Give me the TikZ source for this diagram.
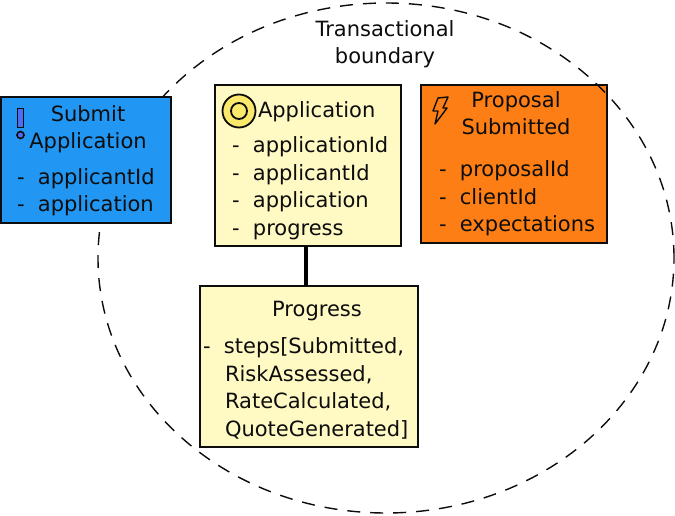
\documentclass[tikz,border=0pt]{standalone}
\usepackage{fontspec}
\setmainfont[WordSpace=2]{DejaVu Sans}
\tikzset{
  x=1pt,y=-1pt,
  card/.style={draw=black!95,line width=1.8pt,anchor=north west,inner sep=0pt,outer sep=0pt},
  txt/.style={inner sep=0pt,outer sep=0pt,text=black!95,font=\fontsize{21}{27.5}\selectfont},
  list/.style={txt,align=left,anchor=north west},
  title/.style={txt,align=center,anchor=center},
  bound/.style={draw=black!95,line width=1.4pt,dash pattern=on 13pt off 10pt},
}
\definecolor{sblue}{HTML}{2196F3}
\definecolor{sorange}{HTML}{FD7E14}
\definecolor{syellow}{HTML}{FFF9C4}
\definecolor{ring}{HTML}{FBE96B}
\definecolor{cmd}{HTML}{4C6EF5}
\begin{document}
\begin{tikzpicture}
\useasboundingbox (0,0) rectangle (675,516);
% orange sits under the boundary, blue on top of it
\node[card,fill=sorange,minimum width=186pt,minimum height=158pt] (evt) at (421,85) {};
\coordinate (centre) at (386,258);
\draw[bound] (centre) ellipse [x radius=288pt,y radius=255pt];
\node[card,fill=sblue,minimum width=170pt,minimum height=126pt] (cmdbox) at (1,97) {};
\node[card,fill=syellow,minimum width=186pt,minimum height=161pt] (app) at (215,85) {};
\node[card,fill=syellow,minimum width=218pt,minimum height=161pt] (prog) at (200,286) {};
\draw[black,line width=3.6pt] ([xshift=-2pt]app.south) -- ([xshift=-3pt]prog.north);

\node[title] (tb) at (385,44) {Transactional\\boundary};

\node[draw=black!95,line width=1.6pt,fill=cmd,minimum width=6pt,minimum height=19pt,inner sep=0pt] (ic1) at (20.5,118) {};
\node[circle,draw=black!95,line width=1.6pt,fill=cmd,minimum size=7pt,inner sep=0pt] (ic2) at (20.5,135) {};
\node[title] (t1) at (88,129) {Submit\\Application};
\node[list] (l1) at (17,168.5) {- applicantId\\- application};

\node[circle,draw=black!95,line width=1.8pt,fill=ring,minimum size=33pt,inner sep=0pt] (ic3) at (239,111) {};
\node[circle,draw=black!95,line width=1.8pt,minimum size=16pt,inner sep=0pt] (ic4) at (239,111) {};
\node[txt,anchor=west] (t2) at (258,112) {Application};
\node[list] (l2) at (232,137) {- applicationId\\- applicantId\\- application\\- progress};

\draw[black!95,line width=1.4pt,line join=round] (438,98) -- (448,97) -- (443,108) -- (447,108) -- (435,124) -- (438,111) -- (433,111) -- cycle;
\node[title] (t3) at (516,113) {Proposal\\Submitted};
\node[list] (l3) at (439,161) {- proposalId\\- clientId\\- expectations};

\node[txt,anchor=center] (t4) at (317,311) {Progress};
\node[list] (l4) at (203,338) {- steps[Submitted,\\\hspace*{22pt}RiskAssessed,\\\hspace*{22pt}RateCalculated,\\\hspace*{22pt}QuoteGenerated]};
\end{tikzpicture}
\end{document}
